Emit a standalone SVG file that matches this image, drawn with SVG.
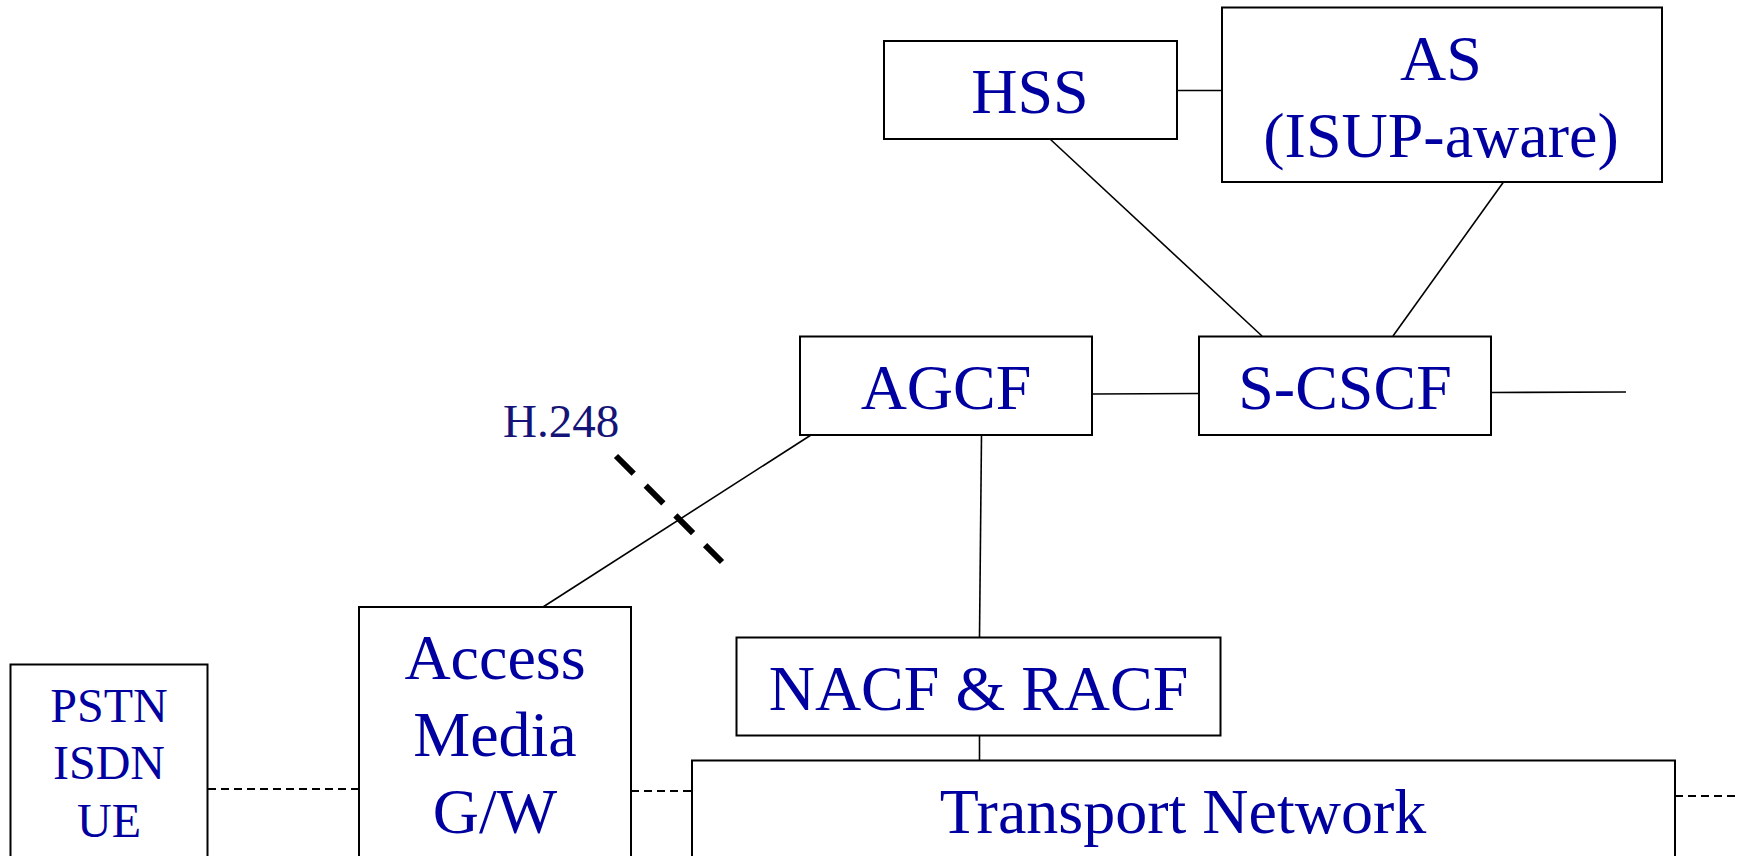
<svg xmlns="http://www.w3.org/2000/svg" width="1737" height="856" viewBox="0 0 1737 856">
  <style>
    .box { fill: #ffffff; stroke: #000000; stroke-width: 2; }
    .lbl { font-family: "Liberation Serif", "Times New Roman", serif; font-size: 64px; fill: #0000a0; text-anchor: middle; }
    .sm { font-size: 48px; }
    .link { stroke: #000000; stroke-width: 1.6; fill: none; }
    .bearer { stroke: #000000; stroke-width: 2; stroke-dasharray: 8 5; fill: none; }
    .ref { stroke: #000000; stroke-width: 6; stroke-dasharray: 25 17; fill: none; }
    .ifname { font-family: "Liberation Serif", "Times New Roman", serif; font-size: 47px; fill: #141478; }
  </style>
  <rect width="1737" height="856" fill="#ffffff"/>

  <g id="connectors">
    <line class="link" x1="1177" y1="90.5" x2="1222" y2="90.5"/>
    <line class="link" x1="1050" y1="139" x2="1262" y2="336"/>
    <line class="link" x1="1503.5" y1="182" x2="1393" y2="336"/>
    <line class="link" x1="1092" y1="394" x2="1199" y2="393.5"/>
    <line class="link" x1="1491" y1="392.5" x2="1626" y2="392"/>
    <line class="link" x1="811" y1="435" x2="543" y2="607"/>
    <line class="link" x1="981.5" y1="435" x2="979.5" y2="637"/>
    <line class="link" x1="979.5" y1="736" x2="979.5" y2="760"/>
    <line class="bearer" x1="208" y1="789" x2="359" y2="789"/>
    <line class="bearer" x1="631" y1="791" x2="692" y2="791"/>
    <line class="bearer" x1="1675" y1="796" x2="1737" y2="796"/>
    <line class="ref" x1="616" y1="456" x2="722" y2="562"/>
    <text class="ifname" x="503" y="437">H.248</text>
  </g>

  <g id="hss">
    <rect class="box" x="884" y="41" width="293" height="98"/>
    <text class="lbl" x="1030" y="113">HSS</text>
  </g>

  <g id="as">
    <rect class="box" x="1222" y="7.5" width="440" height="174.5"/>
    <text class="lbl" x="1441" y="80">AS</text>
    <text class="lbl" x="1441" y="157">(ISUP-aware)</text>
  </g>

  <g id="agcf">
    <rect class="box" x="800" y="336.5" width="292" height="98.5"/>
    <text class="lbl" x="946" y="409">AGCF</text>
  </g>

  <g id="s-cscf">
    <rect class="box" x="1199" y="336.5" width="292" height="98.5"/>
    <text class="lbl" x="1345" y="409">S-CSCF</text>
  </g>

  <g id="nacf-racf">
    <rect class="box" x="736.5" y="637.5" width="484" height="98"/>
    <text class="lbl" x="978.5" y="710">NACF &amp; RACF</text>
  </g>

  <g id="transport-network">
    <rect class="box" x="692" y="760.5" width="983" height="110"/>
    <text class="lbl" x="1183" y="833">Transport Network</text>
  </g>

  <g id="access-media-gw">
    <rect class="box" x="359" y="607" width="272" height="264"/>
    <text class="lbl" x="495" y="679">Access</text>
    <text class="lbl" x="495" y="756">Media</text>
    <text class="lbl" x="495" y="833">G/W</text>
  </g>

  <g id="pstn-isdn-ue">
    <rect class="box" x="10.5" y="664.5" width="197" height="206"/>
    <text class="lbl sm" x="109" y="722">PSTN</text>
    <text class="lbl sm" x="109" y="779">ISDN</text>
    <text class="lbl sm" x="109" y="837">UE</text>
  </g>
</svg>
